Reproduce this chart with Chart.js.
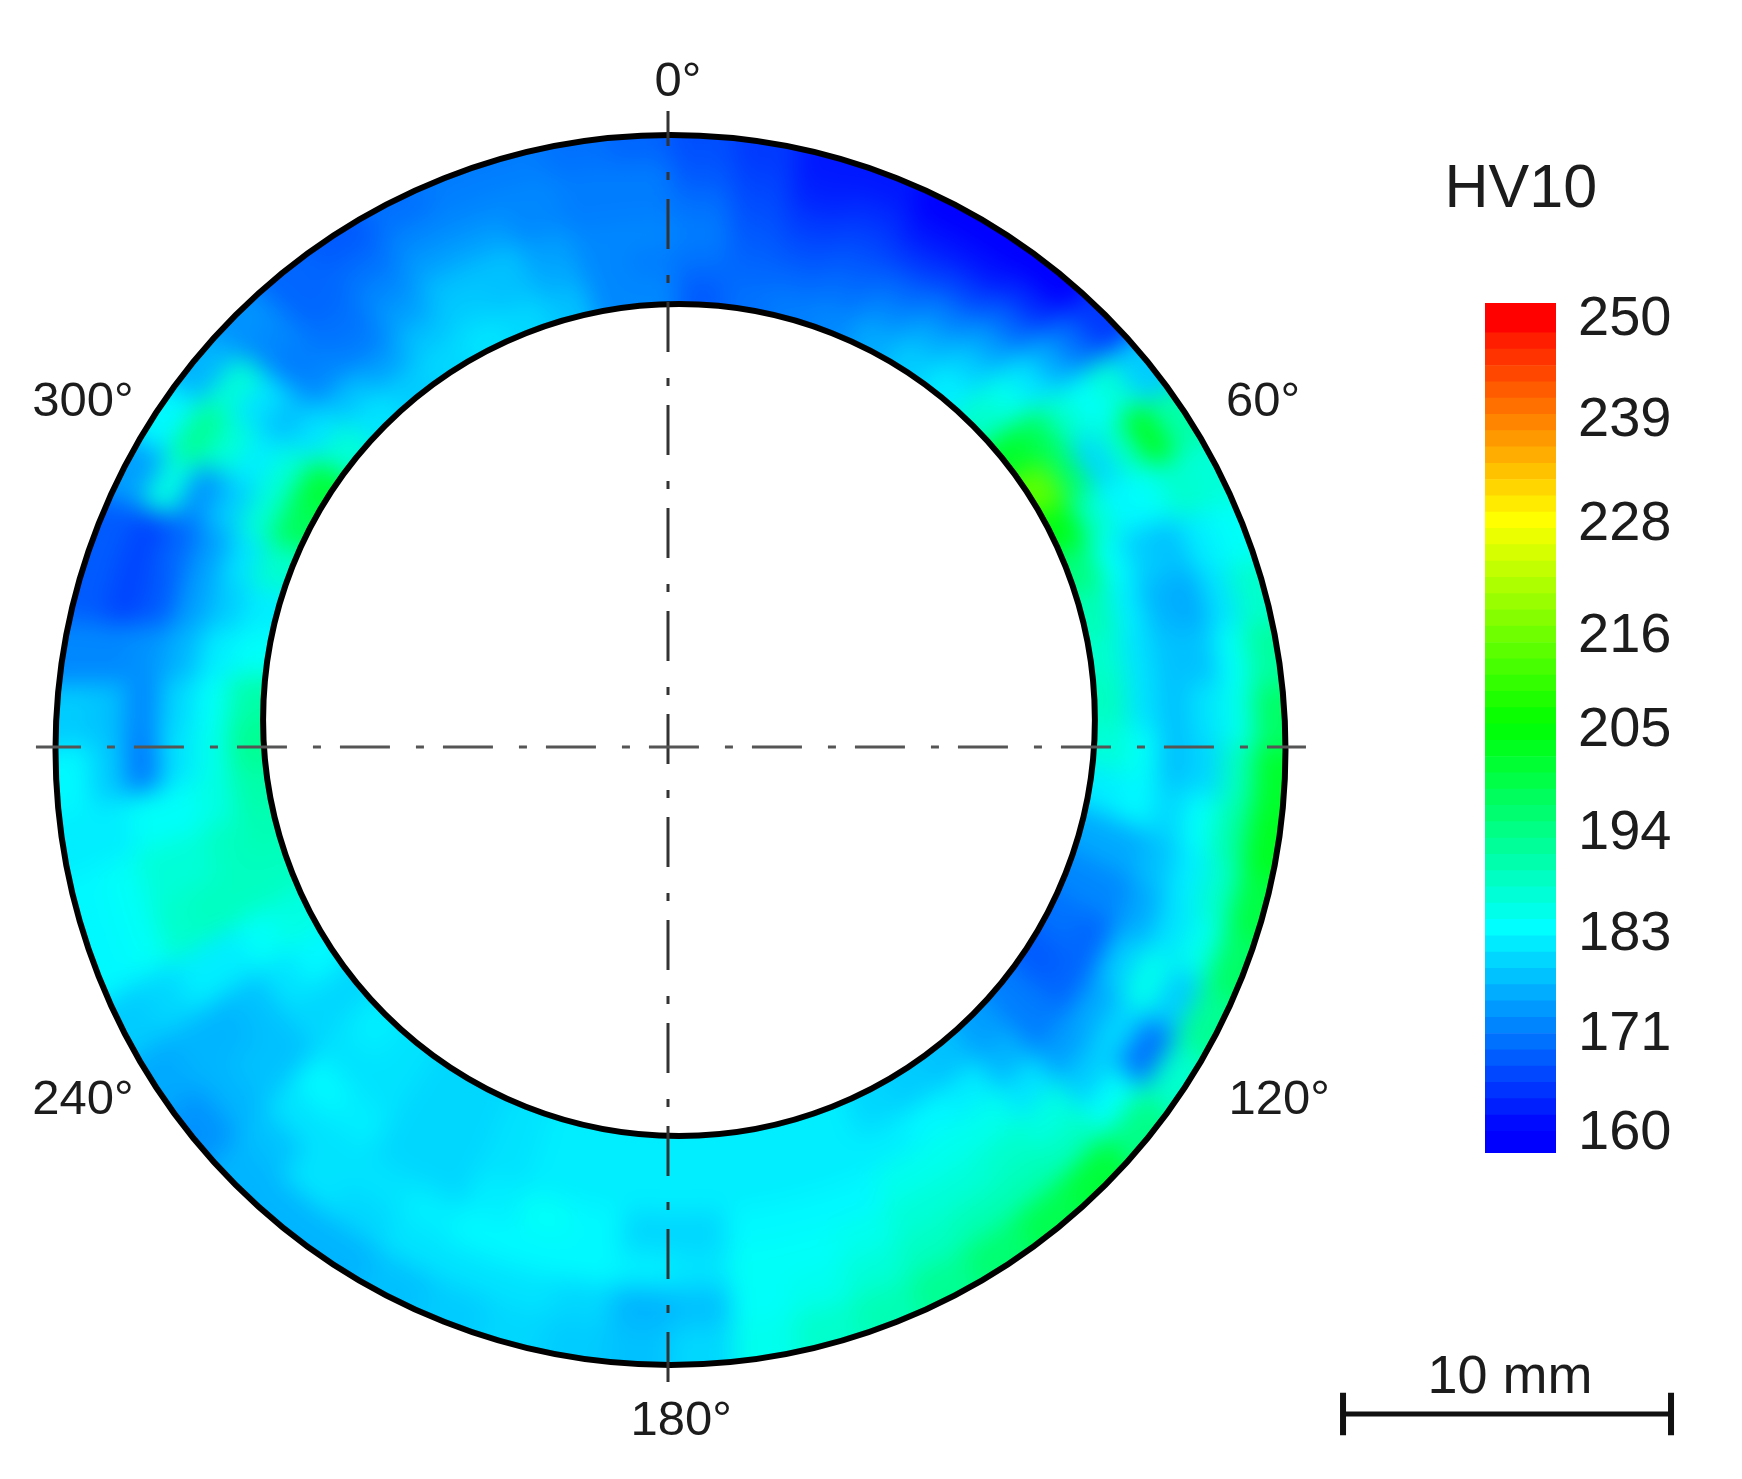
<!DOCTYPE html>
<html>
<head>
<meta charset="utf-8">
<title>HV10</title>
<script src="https://cdn.jsdelivr.net/npm/chart.js@4"></script>
<style>
  body { margin: 0; background: #fff; }
  canvas { position: absolute; }
  /* the contour layer is softened, then cut to the outer circle */
  #contour { left: 0; top: 0; filter: blur(12px); clip-path: circle(614px at 670.5px 750px); }
  #overlay { left: 0; top: 0; }
  #legend { left: 1485px; top: 283px; }
</style>
</head>
<body>
<canvas id="contour" width="1742" height="1479"></canvas>
<canvas id="overlay" width="1742" height="1479"></canvas>
<canvas id="legend" width="257" height="890"></canvas>
<script>
// sector centres (deg clockwise from top) and ring edges (0 = inner circle, 1 = outer circle)
const sectorAngles = [3,9,15,21,27,33,39,45,51,57,63,69,75,81,87,93,99,105,111,117,123,129,135,141,147,153,159,165,171,177,
  183,189,195,201,207,213,219,225,231,237,243,249,255,261,267,273,279,285,291,297,303,309,315,321,327,333,339,345,351,357];
const ringEdges = [-0.15, 0.167, 0.333, 0.5, 0.667, 0.833, 1.15];

// HV10 per sector, inner ring to outer ring
const hvBySector = [
  [168,170,171,170,168,167], [170,169,168,167,166,165], [171,169,167,165,163,162], [172,170,168,166,164,162],
  [175,172,169,165,162,160], [178,175,171,166,162,160], [181,178,174,169,164,160], [187,184,180,175,170,165],
  [201,197,187,183,186,178], [213,196,179,187,202,190], [203,187,182,183,187,186], [194,183,178,177,181,183],
  [189,181,176,175,180,187], [187,180,177,177,183,191], [188,180,177,180,184,196], [186,183,177,179,188,201],
  [181,182,179,183,190,202], [175,175,177,181,187,199], [172,172,175,180,184,196], [170,169,178,184,178,192],
  [168,169,175,179,170,187], [171,171,174,178,183,193], [174,176,180,185,188,200], [177,181,184,187,189,198],
  [178,182,184,186,189,195], [179,181,184,186,188,192], [181,181,182,184,186,189], [181,181,182,183,184,187],
  [181,181,182,183,183,184], [181,181,179,180,177,179], [181,181,179,181,176,177], [181,181,182,182,179,178],
  [181,181,183,182,180,179], [180,180,181,182,180,178], [179,179,179,181,180,177], [179,179,179,180,179,176],
  [180,180,181,180,180,176], [181,180,182,180,177,176], [179,179,177,177,176,173], [182,180,177,176,176,175],
  [185,183,181,181,179,178], [188,188,188,187,183,182], [189,188,186,186,183,182], [190,185,183,183,181,181],
  [192,184,180,171,178,182], [190,183,179,172,177,178], [183,181,176,173,172,172], [181,178,174,168,166,168],
  [187,180,174,169,166,168], [197,186,178,173,185,174], [200,186,181,186,192,182], [186,180,177,180,186,176],
  [180,177,172,171,172,173], [178,174,171,170,169,169], [179,177,174,172,170,168], [180,178,177,174,172,170],
  [179,177,177,174,172,171], [177,175,174,172,172,171], [172,172,172,171,171,170], [172,171,172,171,171,169]
];

// colour bar
const legendLevels = [157.6,160,161.8,163.6,165.4,167.2,169,170.8,172.6,174.4,176.2,178,179.8,181.6,183.4,185.2,187,188.8,190.6,192.4,
  194.2,196,197.8,199.6,201.4,203.2,205,206.8,208.6,210.4,212.2,214,215.8,217.6,219.4,221.2,223,224.8,226.6,228.4,
  230.2,232,233.8,235.6,237.4,239.2,241,242.8,244.6,246.4,248.2,251.5];
const legendTicks = [160,171,183,194,205,216,228,239,250];
const legendTickAt = [159.7,170.7,181.7,192.9,204.3,214.6,227,238.5,249.7]; // where the printed labels sit on the bar

// texts
const angleLabels = ['0°','60°','120°','180°','240°','300°'];
const angleLabelX = [0.30,18.14,18.63,0.40,-17.84,-17.84];
const angleLabelY = [20.25,10.49,-10.79,-20.55,-10.79,10.49];

// geometry in mm, origin at the crossing of the centre lines
const pxPerMm = 32.8;
const outerCircle = { x: 0.076, y: -0.091, r: 18.75 };
const innerCircle = { x: 0.335, y: 0.823, r: 12.68 };
const pageAxes = {
  x: { type: 'linear', display: false, min: -668 / pxPerMm, max: 1074 / pxPerMm },
  y: { type: 'linear', display: false, min: -732 / pxPerMm, max: 747 / pxPerMm }
};

const hvStops = [
  [160, [0, 0, 255]], [182.5, [0, 255, 255]], [205, [0, 255, 0]], [227.5, [255, 255, 0]], [250, [255, 0, 0]]
];
function hvColor(v) {
  v = Math.min(250, Math.max(160, v));
  for (let i = 1; i < hvStops.length; i++) {
    if (v <= hvStops[i][0]) {
      const t = (v - hvStops[i - 1][0]) / (hvStops[i][0] - hvStops[i - 1][0]);
      const a = hvStops[i - 1][1], b = hvStops[i][1];
      return `rgb(${a.map((c, k) => Math.round(c + (b[k] - c) * t)).join(',')})`;
    }
  }
  return 'rgb(255,0,0)';
}

function ringPoint(deg, f) {
  const t = deg * Math.PI / 180;
  const ix = innerCircle.x + innerCircle.r * Math.sin(t), iy = innerCircle.y + innerCircle.r * Math.cos(t);
  const ox = outerCircle.x + outerCircle.r * Math.sin(t), oy = outerCircle.y + outerCircle.r * Math.cos(t);
  return { x: ix + (ox - ix) * f, y: iy + (oy - iy) * f };
}

// one closed cell per value
const cellDatasets = [];
hvBySector.forEach((rings, s) => {
  const a0 = sectorAngles[s] - 3, a1 = sectorAngles[s] + 3;
  rings.forEach((hv, r) => {
    const f0 = ringEdges[r], f1 = ringEdges[r + 1];
    const col = hvColor(hv);
    cellDatasets.push({
      data: [ringPoint(a0, f0), ringPoint(a0, f1), ringPoint(a1, f1), ringPoint(a1, f0), ringPoint(a0, f0)],
      showLine: true, fill: 'shape', pointRadius: 0,
      backgroundColor: col, borderColor: col, borderWidth: 2
    });
  });
});

new Chart(document.getElementById('contour'), {
  type: 'scatter',
  data: { datasets: cellDatasets },
  options: {
    responsive: false, animation: false, events: [],
    layout: { padding: 0, autoPadding: false }, scales: pageAxes,
    plugins: { legend: { display: false }, tooltip: { enabled: false } }
  }
});

const textPlugin = {
  id: 'pageTexts',
  afterDraw(chart) {
    const { ctx, scales: { x, y } } = chart;
    const put = (s, vx, vy, size) => {
      ctx.font = size + 'px "Liberation Sans"';
      ctx.fillText(s, x.getPixelForValue(vx), y.getPixelForValue(vy));
    };
    ctx.save();
    ctx.fillStyle = '#1c1c1c';
    ctx.textAlign = 'center';
    ctx.textBaseline = 'middle';
    angleLabels.forEach((s, i) => put(s, angleLabelX[i], angleLabelY[i], 49));
    put('HV10', 26.0, 16.98, 61);
    put('10 mm', 25.67, -19.24, 54);
    ctx.restore();
  }
};

const lineStyle = { showLine: true, pointRadius: 0, fill: false };
new Chart(document.getElementById('overlay'), {
  type: 'scatter',
  data: {
    datasets: [
      // centre lines
      { ...lineStyle, order: 1, data: [{ x: -19.27, y: 0 }, { x: 19.45, y: 0 }], borderColor: '#555', borderWidth: 3, borderDash: [50, 26, 8, 19], borderDashOffset: 5 },
      { ...lineStyle, order: 1, data: [{ x: 0, y: 19.39 }, { x: 0, y: -19.57 }], borderColor: '#333', borderWidth: 3, borderDash: [50, 26, 8, 19], borderDashOffset: 15 },
      // ring outlines
      { order: 2, data: [{ x: outerCircle.x, y: outerCircle.y }], pointRadius: outerCircle.r * pxPerMm, pointBackgroundColor: 'rgba(0,0,0,0)', pointBorderColor: '#000', pointBorderWidth: 6 },
      { order: 3, data: [{ x: innerCircle.x, y: innerCircle.y }], pointRadius: innerCircle.r * pxPerMm, pointBackgroundColor: '#fff', pointBorderColor: '#000', pointBorderWidth: 6 },
      // scale bar
      { ...lineStyle, order: 0, data: [{ x: 20.58, y: -20.335 }, { x: 30.58, y: -20.335 }], borderColor: '#111', borderWidth: 5 },
      { ...lineStyle, order: 0, data: [{ x: 20.58, y: -19.69 }, { x: 20.58, y: -20.98 }], borderColor: '#111', borderWidth: 6 },
      { ...lineStyle, order: 0, data: [{ x: 30.58, y: -19.69 }, { x: 30.58, y: -20.98 }], borderColor: '#111', borderWidth: 6 }
    ]
  },
  options: {
    responsive: false, animation: false, events: [],
    layout: { padding: 0, autoPadding: false }, scales: pageAxes,
    plugins: { legend: { display: false }, tooltip: { enabled: false } }
  },
  plugins: [textPlugin]
});

new Chart(document.getElementById('legend'), {
  type: 'bar',
  data: {
    labels: ['HV10'],
    datasets: legendLevels.slice(1).map((hi, i) => {
      const lo = legendLevels[i];
      return { data: [[lo, hi]], backgroundColor: hvColor((lo + hi) / 2), borderWidth: 0, barPercentage: 1, categoryPercentage: 1, grouped: false };
    })
  },
  options: {
    responsive: false, animation: false, events: [],
    layout: { padding: { left: 0, right: 0, top: 20, bottom: 20 }, autoPadding: false },
    scales: {
      x: { display: false },
      y: {
        position: 'right', min: 157.6, max: 251.5,
        border: { display: false },
        grid: { display: false, drawTicks: false },
        afterBuildTicks: s => { s.ticks = legendTickAt.map(v => ({ value: v })); },
        afterFit: s => { s.width = 186; s.paddingTop = 0; s.paddingBottom = 0; },
        ticks: {
          autoSkip: false, padding: 22, color: '#1c1c1c',
          font: { family: '"Liberation Sans"', size: 56 },
          callback: (v, i) => legendTicks[i]
        }
      }
    },
    plugins: { legend: { display: false }, tooltip: { enabled: false } }
  }
});
</script>
</body>
</html>
